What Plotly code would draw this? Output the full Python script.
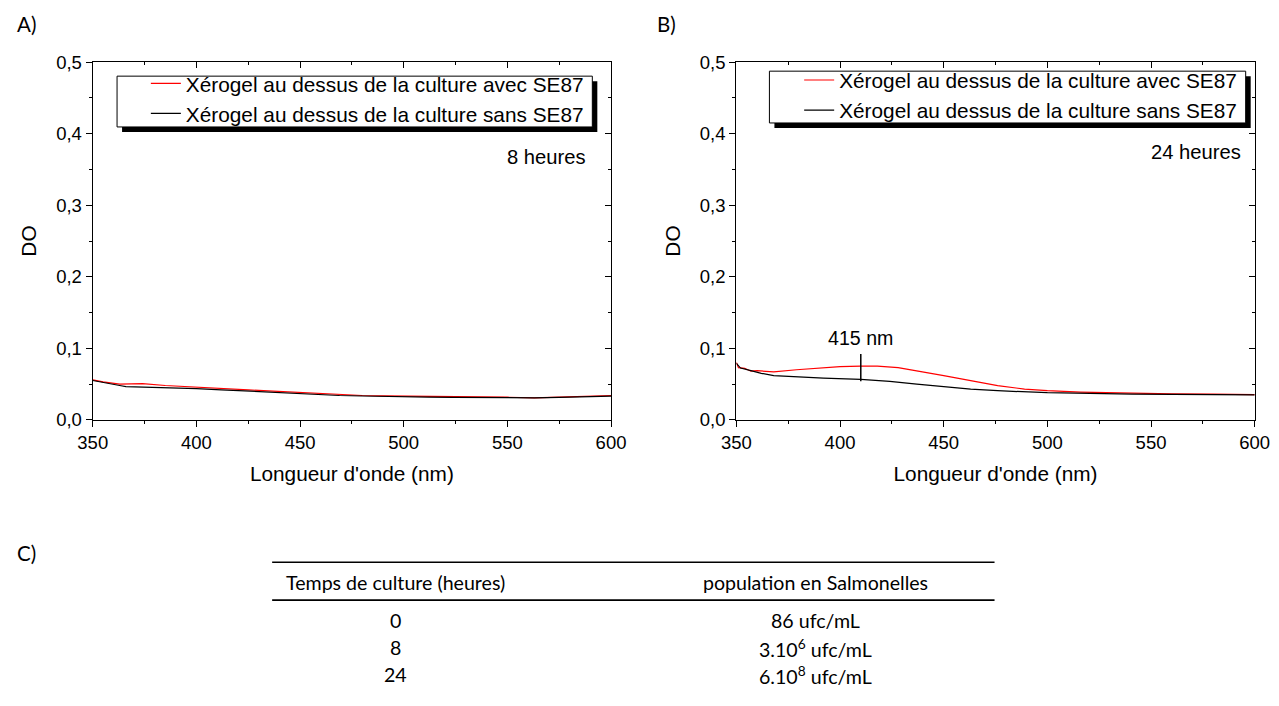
import plotly.graph_objects as go

W, H = 1279, 706

# ---------------- data ----------------
wl_a_red = [350, 355, 363, 374, 385, 400, 412, 425, 437, 450, 460, 469, 480, 490, 500, 512, 524, 537, 550, 563, 575, 588, 600]
do_a_red = [0.0558, 0.053, 0.0498, 0.0507, 0.048, 0.046, 0.044, 0.042, 0.040, 0.038, 0.0365, 0.0353, 0.034, 0.0335, 0.033, 0.0325, 0.032, 0.032, 0.0316, 0.0307, 0.0318, 0.033, 0.034]
wl_a_blk = [350, 355, 363, 366, 380, 400, 412, 425, 437, 450, 460, 469, 480, 490, 500, 512, 524, 537, 550, 563, 575, 588, 600]
do_a_blk = [0.055, 0.052, 0.048, 0.0465, 0.0455, 0.0435, 0.042, 0.040, 0.038, 0.036, 0.035, 0.034, 0.0333, 0.0325, 0.032, 0.0318, 0.0315, 0.0312, 0.031, 0.0308, 0.0315, 0.0322, 0.033]

wl_b_red = [350, 351, 354, 357, 360, 368, 379, 392, 400, 410, 418, 428, 437, 450, 463, 476, 489, 500, 516, 541, 560, 580, 600]
do_b_red = [0.080, 0.073, 0.072, 0.068, 0.0687, 0.067, 0.070, 0.073, 0.0743, 0.075, 0.075, 0.073, 0.0687, 0.0617, 0.0547, 0.0477, 0.043, 0.0407, 0.0388, 0.037, 0.0362, 0.0358, 0.0352]
wl_b_blk = [350, 352, 357, 362, 368, 379, 392, 410, 424, 437, 450, 463, 476, 500, 541, 560, 580, 600]
do_b_blk = [0.079, 0.0724, 0.0687, 0.065, 0.0617, 0.0598, 0.0584, 0.0565, 0.0537, 0.050, 0.0463, 0.043, 0.0407, 0.0379, 0.036, 0.0355, 0.0352, 0.035]

series_names = ["Xérogel au dessus de la culture avec SE87", "Xérogel au dessus de la culture sans SE87"]
series_colors = ["#ff0000", "#000000"]

x_tickvals = [350, 400, 450, 500, 550, 600]
y_tickvals = [0.0, 0.1, 0.2, 0.3, 0.4, 0.5]
y_ticktext = ["0,0", "0,1", "0,2", "0,3", "0,4", "0,5"]

time_labels = ["8 heures", "24 heures"]
peak_nm = 410
peak_label = "415 nm"
peak_span = [0.054, 0.092]

table_header = ["Temps de culture (heures)", "population en Salmonelles"]
table_times = ["0", "8", "24"]
table_pops = ["86 ufc/mL", "3.10<sup>6</sup> ufc/mL", "6.10<sup>8</sup> ufc/mL"]

# ---------------- layout helpers ----------------
# map target picture pixels to paper fractions (the photographed page is
# slightly scaled/offset compared with the figure)
OX, SX = 15.0, 0.976
OY, SY = 8.6, 0.974

def fpx(t):
    return (t - OX) / SX

def fpy(t):
    return (t - OY) / SY

def px(t):
    return max(0.0, fpx(t) / W)

def py(t):
    return 1 - fpy(t) / H

ARIAL = "Liberation Sans, Arial, sans-serif"
CAL = "Lato, Carlito, Calibri, sans-serif"

fig = go.Figure()

panels = [
    dict(x="x", y="y", xm="x3", ym="y3", dom=[px(92.7), px(610.7)],
         data=[(wl_a_red, do_a_red), (wl_a_blk, do_a_blk)], legend="legend"),
    dict(x="x2", y="y2", xm="x4", ym="y4", dom=[px(736), px(1254)],
         data=[(wl_b_red, do_b_red), (wl_b_blk, do_b_blk)], legend="legend2"),
]
ydom = [py(419), py(60)]

for p in panels:
    for i, (xs, ys) in enumerate(p["data"]):
        fig.add_trace(go.Scatter(x=xs, y=ys, mode="lines", name=series_names[i],
                                 line=dict(color=series_colors[i], width=1.2),
                                 xaxis=p["x"], yaxis=p["y"], legend=p["legend"]))
    # empty traces so mirror axes get drawn
    fig.add_trace(go.Scatter(x=[], y=[], xaxis=p["xm"], yaxis=p["y"], showlegend=False, hoverinfo="skip"))
    fig.add_trace(go.Scatter(x=[], y=[], xaxis=p["x"], yaxis=p["ym"], showlegend=False, hoverinfo="skip"))

def xaxis_main(dom, anchor):
    return dict(domain=dom, anchor=anchor, range=[350, 600], tickvals=x_tickvals,
                ticks="outside", ticklen=6, tickwidth=1.2, tickcolor="black",
                minor=dict(ticks="outside", dtick=25, tick0=350, ticklen=3, tickwidth=1.2, tickcolor="black"),
                showline=True, linecolor="black", linewidth=1.3, showgrid=False, zeroline=False,
                tickfont=dict(family=ARIAL, size=18.5, color="black"),
                title=dict(text="Longueur d'onde (nm)", font=dict(family=ARIAL, size=20.8, color="black"), standoff=14))

def yaxis_main(anchor):
    return dict(domain=ydom, anchor=anchor, range=[0, 0.5], tickvals=y_tickvals, ticktext=y_ticktext,
                ticks="outside", ticklen=6, tickwidth=1.2, tickcolor="black",
                minor=dict(ticks="outside", dtick=0.05, tick0=0, ticklen=3, tickwidth=1.2, tickcolor="black"),
                showline=True, linecolor="black", linewidth=1.3, showgrid=False, zeroline=False,
                tickfont=dict(family=ARIAL, size=18.5, color="black"),
                title=dict(text="DO", font=dict(family=ARIAL, size=20.8, color="black"), standoff=13))

def xaxis_mirror(over, anchor):
    return dict(overlaying=over, anchor=anchor, side="top", range=[350, 600], tickvals=x_tickvals,
                ticks="inside", ticklen=6, tickwidth=1.2, tickcolor="black",
                minor=dict(ticks="inside", dtick=25, tick0=350, ticklen=3, tickwidth=1.2, tickcolor="black"),
                showline=True, linecolor="black", linewidth=1.3, showgrid=False, zeroline=False,
                showticklabels=False)

def yaxis_mirror(over, anchor):
    return dict(overlaying=over, anchor=anchor, side="right", range=[0, 0.5], tickvals=y_tickvals,
                ticks="inside", ticklen=6, tickwidth=1.2, tickcolor="black",
                minor=dict(ticks="inside", dtick=0.05, tick0=0, ticklen=3, tickwidth=1.2, tickcolor="black"),
                showline=True, linecolor="black", linewidth=1.3, showgrid=False, zeroline=False,
                showticklabels=False)

legend_common = dict(bgcolor="rgba(0,0,0,0)", borderwidth=0,
                     font=dict(family=ARIAL, size=20.8, color="black"),
                     xanchor="left", yanchor="top", tracegroupgap=0)

fig.update_layout(
    width=W, height=H, margin=dict(l=0, r=0, t=0, b=0),
    paper_bgcolor="white", plot_bgcolor="white",
    xaxis=xaxis_main(panels[0]["dom"], "y"),
    yaxis=yaxis_main("x"),
    xaxis2=xaxis_main(panels[1]["dom"], "y2"),
    yaxis2=yaxis_main("x2"),
    xaxis3=xaxis_mirror("x", "y"),
    yaxis3=yaxis_mirror("y", "x"),
    xaxis4=xaxis_mirror("x2", "y2"),
    yaxis4=yaxis_mirror("y2", "x2"),
    legend=dict(x=134 / W, y=1 - 54.0 / H, **legend_common),
    legend2=dict(x=803 / W, y=1 - 50.5 / H, **legend_common),
    showlegend=True,
)

shapes = []
# legend boxes with drop shadow
for (x0, y0, x1, y1) in [(117, 74, 592, 125), (769, 69, 1245, 121)]:
    shapes.append(dict(type="rect", xref="paper", yref="paper", x0=px(x0 + 5), x1=px(x1 + 5),
                       y0=py(y1 + 5), y1=py(y0 + 5), fillcolor="black", line=dict(width=0), layer="above"))
    shapes.append(dict(type="rect", xref="paper", yref="paper", x0=px(x0), x1=px(x1),
                       y0=py(y1), y1=py(y0), fillcolor="white", line=dict(color="black", width=1), layer="above"))
# peak marker
shapes.append(dict(type="line", xref="x2", yref="y2", x0=peak_nm, x1=peak_nm, y0=peak_span[0], y1=peak_span[1],
                   line=dict(color="black", width=1.5)))
# table rules
for yy, wdt in [(562, 1.6), (600, 1.6)]:
    shapes.append(dict(type="line", xref="paper", yref="paper", x0=px(272), x1=px(994), y0=py(yy), y1=py(yy),
                       line=dict(color="black", width=wdt)))
fig.update_layout(shapes=shapes)

ann = []
for lab, xx, yy in [("A)", 12, 22), ("B)", 655, 22), ("C)", 12, 553)]:
    ann.append(dict(text=lab, x=px(xx), y=py(yy), xref="paper", yref="paper", xanchor="left", yanchor="middle",
                    showarrow=False, font=dict(family=CAL, size=20.5, color="black")))
ann.append(dict(text=time_labels[0], x=569, y=0.3677, xref="x", yref="y", xanchor="center", yanchor="middle",
                showarrow=False, font=dict(family=ARIAL, size=20.2, color="black")))
ann.append(dict(text=time_labels[1], x=571.5, y=0.3747, xref="x2", yref="y2", xanchor="center", yanchor="middle",
                showarrow=False, font=dict(family=ARIAL, size=20.2, color="black")))
ann.append(dict(text=peak_label, x=peak_nm, y=0.114, xref="x2", yref="y2", xanchor="center", yanchor="middle",
                showarrow=False, font=dict(family=ARIAL, size=19.6, color="black")))

col_x = [395, 815]
for j, h in enumerate(table_header):
    ann.append(dict(text=h, x=px(col_x[j]), y=py(582), xref="paper", yref="paper", xanchor="center",
                    yanchor="middle", showarrow=False, font=dict(family=CAL, size=19.6, color="black")))
row_y = [620, 648, 675]
for i in range(3):
    ann.append(dict(text=table_times[i], x=px(col_x[0]), y=py(row_y[i]), xref="paper", yref="paper",
                    xanchor="center", yanchor="middle", showarrow=False,
                    font=dict(family=CAL, size=19.6, color="black")))
    ann.append(dict(text=table_pops[i], x=px(col_x[1]), y=py(row_y[i]), xref="paper", yref="paper",
                    xanchor="center", yanchor="middle", showarrow=False,
                    font=dict(family=CAL, size=19.6, color="black")))
fig.update_layout(annotations=ann)

fig.write_html("out.html", config={"displayModeBar": False},
               post_script="document.body.style.margin='0';document.body.style.overflow='hidden';")
